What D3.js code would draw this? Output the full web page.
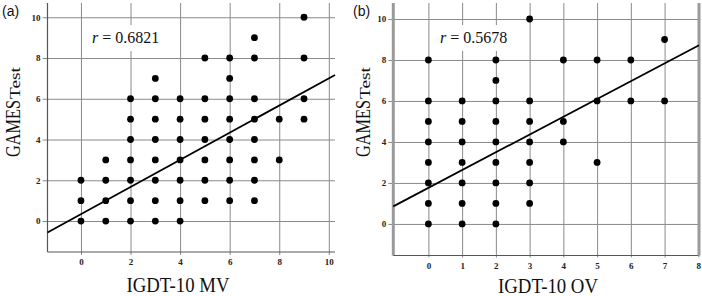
<!DOCTYPE html>
<html>
<head>
<meta charset="utf-8">
<script src="https://cdn.jsdelivr.net/npm/d3@7"></script>
<style>
  body { margin: 0; background: #fff; }
  svg { display: block; }
  .tick text { font-family: "Liberation Serif", "Times New Roman", Times, serif; font-weight: bold; font-size: 9px; fill: #222; }
  .serif { font-family: "Liberation Serif", "Times New Roman", Times, serif; }
</style>
</head>
<body>
<svg id="chart" width="702" height="296"></svg>
<script>
// panel (a): IGDT-10 MV vs GAMES test
var mvX = [0,0,0, 1,1,1,1, 2,2,2,2,2,2,2, 3,3,3,3,3,3,3,3, 4,4,4,4,4,4,4,
           5,5,5,5,5,5,5, 6,6,6,6,6,6,6,6, 7,7,7,7,7,7,7,7, 8,8, 9,9,9,9];
var mvY = [0,1,2, 0,1,2,3, 0,1,2,3,4,5,6, 0,1,2,3,4,5,6,7, 0,1,2,3,4,5,6,
           1,2,3,4,5,6,8, 1,2,3,4,5,6,7,8, 1,2,3,4,5,6,8,9, 3,5, 5,6,8,10];
var mvFit = [0.666, 0.34];   // slope, intercept
var mvR = "0.6821";
var mvXTicks = [0, 2, 4, 6, 8, 10];

// panel (b): IGDT-10 OV vs GAMES test
var ovX = [0,0,0,0,0,0,0,0, 1,1,1,1,1,1,1, 2,2,2,2,2,2,2,2,2, 3,3,3,3,3,3,3,
           4,4,4, 5,5,5, 6,6, 7,7];
var ovY = [0,1,2,3,4,5,6,8, 0,1,2,3,4,5,6, 0,1,2,3,4,5,6,7,8, 1,2,3,4,5,6,10,
           4,5,8, 3,6,8, 6,8, 6,9];
var ovFit = [0.868, 1.76];
var ovR = "0.5678";
var ovXTicks = [0, 1, 2, 3, 4, 5, 6, 7, 8];

var yTicks = [0, 2, 4, 6, 8, 10];

var svg = d3.select("#chart");

function panel(opt) {
  var x = d3.scaleLinear().domain(opt.xDomain).range([opt.left, opt.right]);
  var y = d3.scaleLinear().domain(opt.yDomain).range([opt.bottom, opt.top]);
  var g = svg.append("g");

  // y ticks + horizontal grid
  g.append("g")
    .attr("transform", "translate(" + (opt.left - opt.yTickLen) + ",0)")
    .call(d3.axisLeft(y).tickValues(yTicks).tickSize(-(opt.right - opt.left + opt.yTickLen)).tickPadding(2).tickFormat(d3.format("d")))
    .call(function(a) {
      a.select(".domain").remove();
      a.selectAll(".tick line").attr("stroke", "#8a8a8a").attr("stroke-width", 1);
    });

  // x ticks + vertical grid
  g.append("g")
    .attr("transform", "translate(0," + (opt.bottom + opt.xTickLen) + ")")
    .call(d3.axisBottom(x).tickValues(opt.xTicks).tickSize(-(opt.bottom + opt.xTickLen - opt.top)).tickPadding(opt.xPad).tickFormat(d3.format("d")))
    .call(function(a) {
      a.select(".domain").remove();
      a.selectAll(".tick line").attr("stroke", "#8a8a8a").attr("stroke-width", 1);
    });

  // axis lines
  g.append("line")
    .attr("x1", opt.left).attr("x2", opt.left)
    .attr("y1", opt.top).attr("y2", opt.bottom)
    .attr("stroke", opt.sideColor).attr("stroke-width", opt.sideWidth);
  g.append("line")
    .attr("x1", opt.left).attr("x2", opt.right)
    .attr("y1", opt.bottom).attr("y2", opt.bottom)
    .attr("stroke", "#555").attr("stroke-width", 1.2);
  if (opt.rightBorder) {
    g.append("line")
      .attr("x1", opt.right).attr("x2", opt.right)
      .attr("y1", opt.top).attr("y2", opt.bottom)
      .attr("stroke", opt.sideColor).attr("stroke-width", opt.sideWidth);
  }

  // r label with white box
  g.append("rect")
    .attr("x", opt.rBox[0]).attr("y", 25)
    .attr("width", opt.rBox[1]).attr("height", 26)
    .attr("fill", "#fff");
  var rt = g.append("text")
    .attr("class", "serif")
    .attr("x", opt.rX).attr("y", 43)
    .style("font-size", "16px")
    .attr("fill", "#111");
  rt.append("tspan").style("font-style", "italic").text("r");
  rt.append("tspan").text(" = " + opt.r);

  // regression line
  var xd = x.domain();
  var fit = opt.fit;
  g.append("line")
    .attr("x1", x(xd[0])).attr("y1", y(fit[0] * xd[0] + fit[1]))
    .attr("x2", x(xd[1])).attr("y2", y(fit[0] * xd[1] + fit[1]))
    .attr("stroke", "#000").attr("stroke-width", 1.8);

  // points
  g.selectAll("circle.pt")
    .data(d3.range(opt.px.length))
    .enter().append("circle")
    .attr("class", "pt")
    .attr("cx", function(i) { return x(opt.px[i]); })
    .attr("cy", function(i) { return y(opt.py[i]); })
    .attr("r", 3.4)
    .attr("fill", "#000");

  // y title: GAMES + Test
  var yt = g.append("g").attr("transform", "translate(" + opt.yTitleX + ",157) rotate(-90)");
  yt.append("text")
    .attr("class", "serif")
    .attr("x", 0).attr("y", 0)
    .attr("textLength", 57).attr("lengthAdjust", "spacingAndGlyphs")
    .style("font-size", "21px").attr("fill", "#111")
    .text("GAMES");
  yt.append("text")
    .attr("class", "serif")
    .attr("x", 58).attr("y", 0)
    .attr("textLength", 32).attr("lengthAdjust", "spacingAndGlyphs")
    .style("font-size", "15px").attr("fill", "#111")
    .text("Test");

  // x title
  g.append("text")
    .attr("class", "serif")
    .attr("x", opt.xTitle[0]).attr("y", opt.xTitle[1])
    .attr("text-anchor", "middle")
    .attr("textLength", opt.xTitle[2]).attr("lengthAdjust", "spacingAndGlyphs")
    .style("font-size", "20px").attr("fill", "#111")
    .text(opt.xLabel);

  // panel letter
  g.append("text")
    .attr("x", opt.letterX).attr("y", 16)
    .style("font-family", "'Liberation Sans', Arial, sans-serif")
    .style("font-size", "14px").attr("fill", "#111")
    .text(opt.letter);
}

panel({
  px: mvX, py: mvY, fit: mvFit, r: mvR, xTicks: mvXTicks,
  xDomain: [-1.35, 10.25], yDomain: [-1.52, 10.7],
  left: 47.5, right: 335, top: 3, bottom: 252,
  yTickLen: 5, xTickLen: 3, xPad: 4,
  sideColor: "#555", sideWidth: 1.2, rightBorder: false,
  rBox: [86, 74], rX: 92,
  yTitleX: 20, xTitle: [178, 292, 103], xLabel: "IGDT-10 MV",
  letter: "(a)", letterX: 2
});

panel({
  px: ovX, py: ovY, fit: ovFit, r: ovR, xTicks: ovXTicks,
  xDomain: [-1.04, 8.02], yDomain: [-1.54, 10.78],
  left: 393.3, right: 699, top: 3, bottom: 255.5,
  yTickLen: 5, xTickLen: 2, xPad: 5,
  sideColor: "#9a9a9a", sideWidth: 3, rightBorder: true,
  rBox: [435, 80], rX: 440,
  yTitleX: 370, xTitle: [548, 293, 100], xLabel: "IGDT-10 OV",
  letter: "(b)", letterX: 353
});
</script>
</body>
</html>
